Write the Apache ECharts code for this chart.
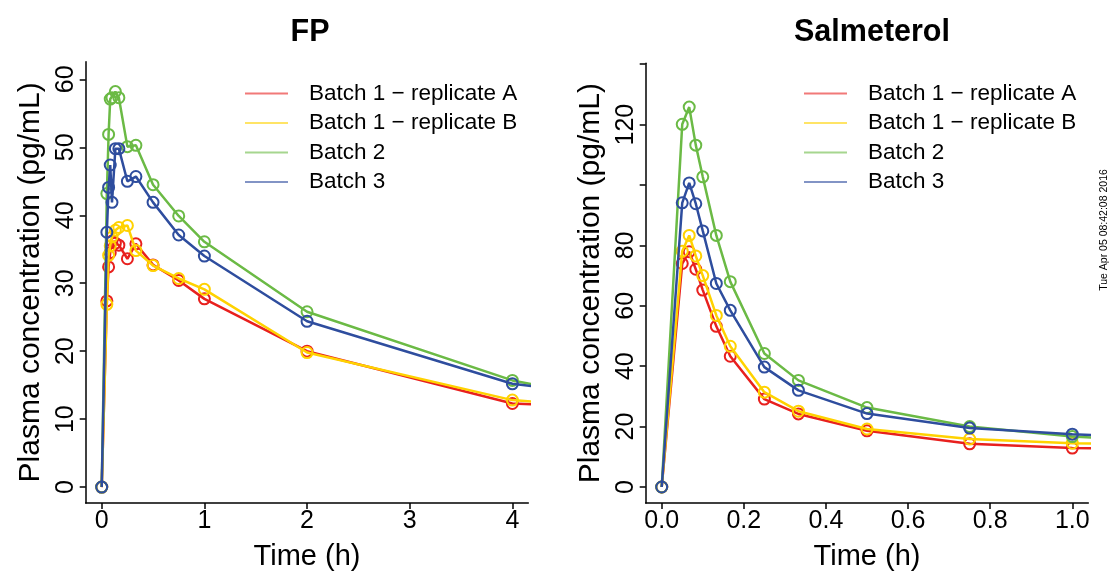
<!DOCTYPE html>
<html>
<head>
<meta charset="utf-8">
<script src="https://cdn.jsdelivr.net/npm/echarts@6/dist/echarts.min.js"></script>
<style>html,body{margin:0;padding:0;background:#fff}#c{width:1109px;height:576px}</style>
</head>
<body>
<div id="c"></div>
<script>
// ---------- data ----------
const seriesNames = ['Batch 1 \u2212 replicate A', 'Batch 1 \u2212 replicate B', 'Batch 2', 'Batch 3'];
const seriesColors = ['#E8201E', '#FFD200', '#6BBA45', '#2E4D9E'];

// FP panel
const fpTime   = [0, 0.05, 0.067, 0.083, 0.1, 0.133, 0.167, 0.25, 0.333, 0.5, 0.75, 1, 2, 4, 6];
const fpRepA   = [0, 27.4, 32.4, 34.5, 36.2, 35.9, 35.6, 33.6, 35.8, 32.7, 30.4, 27.7, 20.0, 12.3, 11.0];
const fpRepB   = [0, 26.9, 34.1, 35.5, 36.8, 37.8, 38.2, 38.5, 34.8, 32.6, 30.7, 29.1, 19.8, 12.8, 10.5];
const fpBatch2 = [0, 43.2, 51.9, 57.1, 57.3, 58.2, 57.3, 50.1, 50.3, 44.5, 39.9, 36.1, 25.8, 15.7, 10.0];
const fpBatch3 = [0, 37.5, 44.1, 47.4, 41.9, 49.8, 49.8, 45.0, 45.7, 41.9, 37.1, 34.0, 24.4, 15.2, 11.5];
const fpXTicks = [0, 1, 2, 3, 4];
const fpYTicks = [0, 10, 20, 30, 40, 50, 60];

// Salmeterol panel
const smTime   = [0, 0.05, 0.067, 0.083, 0.1, 0.133, 0.167, 0.25, 0.333, 0.5, 0.75, 1, 2];
const smRepA   = [0, 74.0, 77.9, 72.1, 65.2, 53.2, 43.3, 29.1, 24.2, 18.6, 14.3, 12.9, 10.5];
const smRepB   = [0, 78.1, 83.3, 76.5, 70.0, 56.8, 46.6, 31.4, 25.1, 19.2, 15.9, 14.5, 11.5];
const smBatch2 = [0, 120.1, 125.8, 113.2, 102.7, 83.3, 68.0, 44.2, 35.3, 26.3, 20.0, 16.7, 10.0];
const smBatch3 = [0, 94.1, 100.7, 93.8, 84.8, 67.4, 58.5, 39.7, 32.0, 24.3, 19.5, 17.5, 11.5];
const smXTicks = [0, 0.2, 0.4, 0.6, 0.8, 1.0];
const smYTicks = [0, 20, 40, 60, 80, 100, 120, 140];
const smYLabels = [0, 20, 40, 60, 80, 120];

const timestamp = 'Tue Apr 05 08:42:08 2016';

// ---------- chart ----------
const FONT = 'Liberation Sans, Arial, Helvetica, sans-serif';
const chart = echarts.init(document.getElementById('c'), null, {renderer: 'canvas'});

function pairs(t, v) { return t.map((x, i) => [x, v[i]]); }

function mkSeries(gridIdx, t, vals) {
  return vals.map((v, k) => ({
    name: seriesNames[k],
    type: 'line',
    xAxisIndex: gridIdx,
    yAxisIndex: gridIdx,
    data: pairs(t, v),
    symbol: 'circle',
    symbolSize: 11,
    showAllSymbol: true,
    clip: true,
    animation: false,
    itemStyle: {color: 'rgba(0,0,0,0)', borderColor: seriesColors[k], borderWidth: 2},
    lineStyle: {color: seriesColors[k], width: 2.5},
    emphasis: {disabled: true},
    z: 2 + k
  }));
}

function xAx(gridIdx, min, max, ticks, fmt) {
  return {
    type: 'value', gridIndex: gridIdx, min: min, max: max,
    name: 'Time (h)', nameLocation: 'middle', nameGap: 39,
    nameTextStyle: {fontFamily: FONT, fontSize: 29, color: '#000'},
    axisLine: {show: true, onZero: false, lineStyle: {color: '#000', width: 1.5}},
    axisTick: {show: true, length: 6, customValues: ticks, lineStyle: {color: '#000', width: 1.5}},
    axisLabel: {show: true, customValues: ticks, margin: 6, fontFamily: FONT, fontSize: 25, color: '#000',
                formatter: fmt},
    splitLine: {show: false}
  };
}

function yAx(gridIdx, min, max, ticks, labels) {
  return {
    type: 'value', gridIndex: gridIdx, min: min, max: max,
    name: 'Plasma concentration (pg/mL)', nameLocation: 'middle', nameGap: 40, nameRotate: 90,
    nameTextStyle: {fontFamily: FONT, fontSize: 30, color: '#000'},
    axisLine: {show: true, onZero: false, lineStyle: {color: '#000', width: 1.5}},
    axisTick: {show: true, length: 6, customValues: ticks, lineStyle: {color: '#000', width: 1.5}},
    axisLabel: {show: true, customValues: labels, rotate: 90, margin: 7, fontFamily: FONT, fontSize: 25, color: '#000'},
    splitLine: {show: false}
  };
}

function mkLegend(left) {
  return {
    orient: 'vertical', left: left, top: 82, padding: 0,
    icon: 'rect', itemWidth: 43, itemHeight: 2, itemGap: 6.5,
    data: seriesNames.map((n, k) => ({name: n, itemStyle: {color: seriesColors[k], opacity: 0.6, borderWidth: 0}})),
    textStyle: {fontFamily: FONT, fontSize: 22.5, color: '#000', lineHeight: 22, padding: [0, 0, 0, 16]},
    selectedMode: false
  };
}

const option = {
  backgroundColor: '#fff',
  animation: false,
  title: [
    {text: 'FP', left: 305, top: 12, textAlign: 'center',
     textStyle: {fontFamily: FONT, fontSize: 30.5, fontWeight: 'bold', color: '#000'}},
    {text: 'Salmeterol', left: 867, top: 12, textAlign: 'center',
     textStyle: {fontFamily: FONT, fontSize: 30.5, fontWeight: 'bold', color: '#000'}}
  ],
  grid: [
    {left: 85.7, top: 61.7, width: 442.6, height: 444.3},
    {left: 645.7, top: 63.3, width: 442.6, height: 442.7}
  ],
  xAxis: [
    xAx(0, -0.156, 4.155, fpXTicks, v => String(v)),
    xAx(1, -0.039, 1.039, smXTicks, v => Number(v).toFixed(1))
  ],
  yAxis: [
    yAx(0, -2.34, 62.6, fpYTicks, fpYTicks),
    yAx(1, -5.3, 140.3, smYTicks, smYLabels)
  ],
  legend: [mkLegend(245), mkLegend(804)],
  series: [].concat(
    mkSeries(0, fpTime, [fpRepA, fpRepB, fpBatch2, fpBatch3]),
    mkSeries(1, smTime, [smRepA, smRepB, smBatch2, smBatch3])
  ),
  graphic: [{
    type: 'text', x: 1104, y: 230, rotation: Math.PI / 2,
    style: {text: timestamp, fontFamily: FONT, fontSize: 10.5, fill: '#000', align: 'center', verticalAlign: 'middle'}
  }]
};
chart.setOption(option);
</script>
</body>
</html>
